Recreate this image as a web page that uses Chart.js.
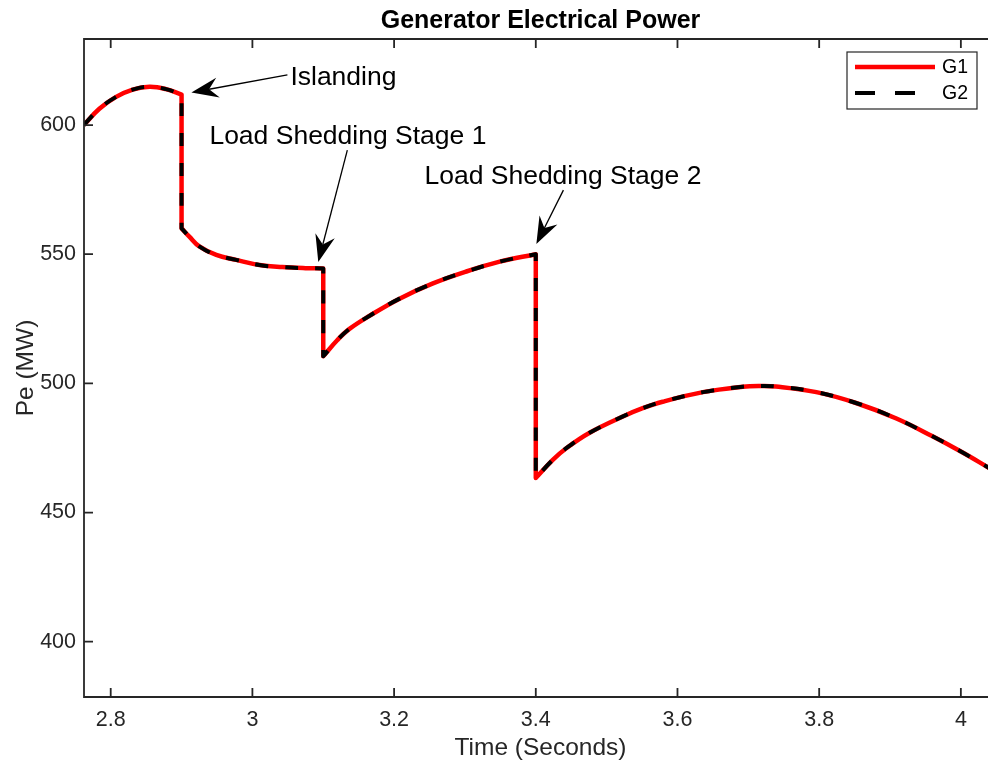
<!DOCTYPE html>
<html><head><meta charset="utf-8">
<script src="https://cdn.jsdelivr.net/npm/chart.js@4.4.1/dist/chart.umd.min.js"></script>
<style>
html,body{margin:0;padding:0;background:#fff;overflow:hidden;width:988px;height:760px}
#wrap{position:absolute;left:0;top:0;width:1000px;height:760px}
canvas{display:block}
</style></head><body>
<div id="wrap"><canvas id="c" width="1000" height="760"></canvas></div>
<script>
// ---- data; corner points of the sudden drops are listed twice so the corners stay sharp ----
const timeS = [2.762, 2.784, 2.807, 2.831, 2.855, 2.878, 2.900, 2.900, 2.900, 2.900, 2.911, 2.925, 2.949, 2.977, 3.010, 3.042, 3.075, 3.100, 3.100,
  3.100, 3.100, 3.120, 3.137, 3.165, 3.207, 3.254, 3.302, 3.349, 3.400, 3.400,
  3.400, 3.400, 3.424, 3.443, 3.476, 3.523, 3.550, 3.579, 3.636, 3.692, 3.716, 3.739, 3.796, 3.852, 3.909, 3.960, 4.000, 4.037, 4.051];
const powerG1 = [600.0, 606.3, 610.8, 613.7, 614.8, 613.9, 611.8, 611.8, 560.0, 560.0, 556.8, 553.0, 549.7, 547.8, 545.8, 545.0, 544.6, 544.5, 544.5,
  510.5, 510.5, 516.8, 521.1, 526.1, 532.7, 538.6, 543.3, 547.1, 550.0, 550.0,
  463.4, 463.4, 470.4, 474.9, 480.9, 487.2, 490.3, 492.9, 496.6, 498.7, 499.0, 498.8, 496.6, 492.4, 486.4, 479.5, 473.6, 467.7, 465.4];
const powerG2 = [600.0, 606.3, 610.8, 613.7, 614.8, 613.9, 611.8, 611.8, 560.0, 560.0, 556.8, 553.0, 549.7, 547.8, 545.8, 545.0, 544.6, 544.5, 544.5,
  510.5, 510.5, 516.8, 521.1, 526.1, 532.7, 538.6, 543.3, 547.1, 550.0, 550.0,
  463.4, 463.4, 470.4, 474.9, 480.9, 487.2, 490.3, 492.9, 496.6, 498.7, 499.0, 498.8, 496.6, 492.4, 486.4, 479.5, 473.6, 467.7, 465.4];
const seriesNames = ['G1', 'G2'];
const xTicks = [2.8, 3, 3.2, 3.4, 3.6, 3.8, 4];
const yTicks = [400, 450, 500, 550, 600];
const xRange = [2.7623, 4.051];
const yRange = [378.6, 633.3];
const chartTitle = 'Generator Electrical Power';
const xLabel = 'Time (Seconds)';
const yLabel = 'Pe (MW)';
// annotation: text, text anchor (t, MW), arrow tail (t, MW), arrow tip (t, MW)
const noteTexts = ['Islanding', 'Load Shedding Stage 1', 'Load Shedding Stage 2'];
const noteTextAt = [[3.0536, 619.0], [2.9393, 596.1], [3.2428, 580.6]];
const noteTail = [[3.0494, 619.4], [3.134, 590.3], [3.439, 574.8]];
const noteTip = [[2.9139, 612.6], [3.093, 547.0], [3.4008, 553.9]];

const FONT = "'Liberation Sans', Arial, Helvetica, sans-serif";
const AX = '#262626';

const toPts = (xs, ys) => xs.map((x, i) => ({x: x, y: ys[i]}));

const frame = {
  id: 'matlabFrame',
  afterDraw(chart) {
    const ctx = chart.ctx, a = chart.chartArea;
    const xs = chart.scales.x, ys = chart.scales.y;
    ctx.save();
    // box
    ctx.strokeStyle = AX; ctx.lineWidth = 1.8;
    ctx.beginPath();
    ctx.rect(a.left, a.top, a.right - a.left, a.bottom - a.top);
    ctx.stroke();
    // inward ticks
    ctx.beginPath();
    xTicks.forEach(v => {
      const p = xs.getPixelForValue(v);
      ctx.moveTo(p, a.bottom); ctx.lineTo(p, a.bottom - 9);
      ctx.moveTo(p, a.top); ctx.lineTo(p, a.top + 9);
    });
    yTicks.forEach(v => {
      const p = ys.getPixelForValue(v);
      ctx.moveTo(a.left, p); ctx.lineTo(a.left + 9, p);
      ctx.moveTo(a.right, p); ctx.lineTo(a.right - 9, p);
    });
    ctx.stroke();
    // title
    ctx.fillStyle = '#000';
    ctx.font = 'bold 25px ' + FONT;
    ctx.textAlign = 'center'; ctx.textBaseline = 'middle';
    ctx.fillText(chartTitle, (a.left + a.right) / 2, 21);
    // annotations
    ctx.font = '26.5px ' + FONT;
    ctx.textAlign = 'left';
    noteTexts.forEach((t, i) => {
      ctx.fillStyle = '#000';
      ctx.fillText(t, xs.getPixelForValue(noteTextAt[i][0]), ys.getPixelForValue(noteTextAt[i][1]) + 2);
      const x0 = xs.getPixelForValue(noteTail[i][0]), y0 = ys.getPixelForValue(noteTail[i][1]);
      const x1 = xs.getPixelForValue(noteTip[i][0]), y1 = ys.getPixelForValue(noteTip[i][1]);
      const ang = Math.atan2(y1 - y0, x1 - x0);
      const L = 27, W = 10, N = 18;
      ctx.strokeStyle = '#000'; ctx.lineWidth = 1.3;
      ctx.beginPath(); ctx.moveTo(x0, y0);
      ctx.lineTo(x1 - Math.cos(ang) * N, y1 - Math.sin(ang) * N); ctx.stroke();
      ctx.save(); ctx.translate(x1, y1); ctx.rotate(ang);
      ctx.beginPath();
      ctx.moveTo(0, 0); ctx.lineTo(-L, -W); ctx.lineTo(-N, 0); ctx.lineTo(-L, W); ctx.closePath();
      ctx.fill();
      ctx.restore();
    });
    // legend
    const lx = 847, ly = 52, lw = 130, lh = 57;
    ctx.fillStyle = '#fff'; ctx.fillRect(lx, ly, lw, lh);
    ctx.strokeStyle = AX; ctx.lineWidth = 1.2; ctx.strokeRect(lx, ly, lw, lh);
    const ds = chart.data.datasets;
    ctx.font = '19.5px ' + FONT; ctx.textBaseline = 'middle'; ctx.textAlign = 'left';
    [67, 93].forEach((yy, i) => {
      const d = ds[i];
      ctx.strokeStyle = d.borderColor; ctx.lineWidth = d.borderWidth;
      ctx.setLineDash(i === 1 ? [20, 20] : []);
      ctx.lineCap = 'butt';
      ctx.beginPath(); ctx.moveTo(855, yy); ctx.lineTo(935, yy); ctx.stroke();
      ctx.setLineDash([]);
      ctx.fillStyle = '#000';
      ctx.fillText(d.label, 942, yy + 1);
    });
    ctx.restore();
  }
};

new Chart(document.getElementById('c'), {
  type: 'line',
  data: {
    datasets: [
      {label: seriesNames[0], data: toPts(timeS, powerG1), borderColor: '#ff0000', borderWidth: 4.5, order: 2,
       pointRadius: 0, tension: 0.4, fill: false, borderJoinStyle: 'round'},
      {label: seriesNames[1], data: toPts(timeS, powerG2), borderColor: '#000000', borderWidth: 4, order: 1,
       borderDash: [13, 17], pointRadius: 0, tension: 0.4, fill: false, borderJoinStyle: 'round'}
    ]
  },
  options: {
    responsive: false, animation: false, devicePixelRatio: 1,
    layout: {padding: {left: 0, right: 3, top: 39, bottom: 0}},
    plugins: {legend: {display: false}, title: {display: false}, tooltip: {enabled: false}},
    scales: {
      x: {
        type: 'linear', min: xRange[0], max: xRange[1],
        afterBuildTicks: s => { s.ticks = xTicks.map(v => ({value: v})); },
        afterFit: s => { s.height = 63; },
        grid: {display: false, drawTicks: false}, border: {display: false},
        ticks: {autoSkip: false, maxRotation: 0, padding: 10, color: AX, font: {family: FONT, size: 21.5},
                callback: v => String(v)},
        title: {display: true, text: xLabel, color: AX, font: {family: FONT, size: 24.5, lineHeight: 1.0}, padding: {top: 0, bottom: 0}}
      },
      y: {
        type: 'linear', min: yRange[0], max: yRange[1],
        afterBuildTicks: s => { s.ticks = yTicks.map(v => ({value: v})); },
        afterFit: s => { s.width = 84; },
        grid: {display: false, drawTicks: false}, border: {display: false},
        ticks: {autoSkip: false, padding: 8, color: AX, font: {family: FONT, size: 21.5},
                callback: v => String(v)},
        title: {display: true, text: yLabel, color: AX, font: {family: FONT, size: 24.5}, padding: {top: 12, bottom: 0}}
      }
    }
  },
  plugins: [frame]
});
</script>
</body></html>
